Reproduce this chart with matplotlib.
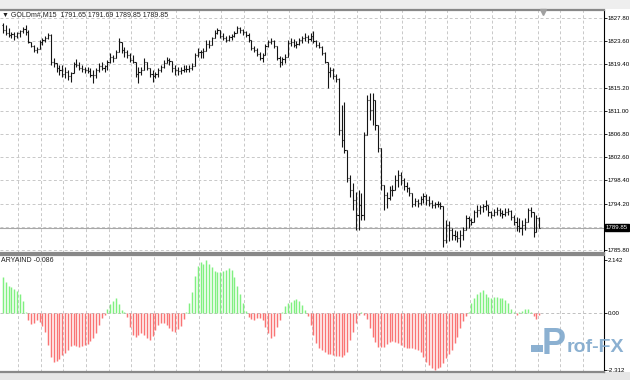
import matplotlib
matplotlib.use("Agg")
import matplotlib.pyplot as plt
from matplotlib.collections import LineCollection
from matplotlib.patches import Rectangle
import matplotlib.transforms as mtransforms
import numpy as np

plt.rcParams['font.family'] = ['Liberation Sans', 'DejaVu Sans']

# GOLDm#, M15 - bars (open, high, low, close), oldest first
opens = [
    1826.5, 1825.6, 1825.1, 1824.7, 1824.9, 1824.5, 1825.1, 1825.5, 1825.8, 1825.3,
    1823.5, 1822.7, 1822.0, 1822.2, 1823.5, 1823.8, 1824.2, 1824.7, 1819.8, 1819.7,
    1818.8, 1818.4, 1817.7, 1818.0, 1817.3, 1817.9, 1819.5, 1819.3, 1818.8, 1818.6,
    1818.4, 1818.2, 1817.5, 1817.5, 1818.4, 1819.1, 1818.8, 1819.1, 1819.8, 1820.7,
    1820.6, 1821.6, 1823.5, 1822.0, 1821.6, 1821.1, 1820.2, 1819.8, 1817.7, 1818.0,
    1818.4, 1819.8, 1818.8, 1817.7, 1817.3, 1817.7, 1818.4, 1818.9, 1819.7, 1820.2,
    1820.0, 1818.8, 1818.4, 1818.2, 1818.4, 1818.6, 1818.6, 1818.8, 1819.1, 1821.1,
    1821.6, 1821.6, 1821.8, 1823.1, 1822.9, 1824.2, 1825.1, 1825.6, 1824.5, 1824.2,
    1823.8, 1824.4, 1824.5, 1825.1, 1826.0, 1825.6, 1825.3, 1824.7, 1823.8, 1822.4,
    1822.0, 1821.3, 1820.6, 1821.1, 1822.7, 1823.5, 1823.6, 1822.7, 1820.6, 1819.8,
    1820.4, 1820.7, 1823.3, 1823.5, 1822.9, 1823.1, 1823.8, 1824.2, 1824.4, 1824.0,
    1824.5, 1823.6, 1822.9, 1822.5, 1821.5, 1819.8, 1818.0, 1818.4, 1817.3, 1816.8,
    1807.5, 1805.7, 1803.9, 1798.8, 1796.7, 1794.9, 1792.1, 1794.0, 1792.1, 1806.6,
    1813.0, 1811.2, 1813.0, 1808.4, 1804.3, 1797.6, 1795.8, 1795.2, 1796.7, 1796.7,
    1798.5, 1799.4, 1798.5, 1797.4, 1797.0, 1796.1, 1794.1, 1794.7, 1794.3, 1795.0,
    1795.6, 1794.9, 1794.3, 1794.0, 1794.1, 1794.1, 1793.8, 1787.6, 1790.3, 1789.4,
    1788.5, 1788.3, 1788.0, 1788.5, 1789.4, 1791.6, 1791.2, 1790.9, 1792.7, 1793.0,
    1793.6, 1793.8, 1794.0, 1792.7, 1792.1, 1792.7, 1793.0, 1792.5, 1792.3, 1792.7,
    1792.9, 1791.8, 1790.9, 1790.2, 1789.8, 1790.3, 1790.9, 1793.0, 1792.7, 1789.1,
    1791.65]
highs = [
    1826.9, 1826.5, 1826.0, 1825.3, 1825.3, 1825.3, 1825.6, 1826.2, 1826.5, 1825.6,
    1823.5, 1822.9, 1822.5, 1823.8, 1824.2, 1824.5, 1825.1, 1824.9, 1820.6, 1819.7,
    1819.3, 1819.3, 1818.9, 1818.4, 1818.0, 1819.8, 1820.4, 1819.8, 1819.3, 1818.9,
    1818.9, 1818.8, 1818.4, 1818.8, 1819.7, 1819.8, 1819.3, 1820.2, 1821.5, 1821.1,
    1822.0, 1824.2, 1823.5, 1822.5, 1822.0, 1821.5, 1821.1, 1819.8, 1818.9, 1818.9,
    1820.6, 1819.8, 1818.8, 1818.4, 1818.0, 1818.8, 1819.3, 1820.2, 1820.7, 1820.6,
    1820.0, 1819.3, 1818.9, 1818.9, 1819.3, 1819.3, 1819.3, 1819.7, 1821.5, 1822.4,
    1822.0, 1822.4, 1823.8, 1823.8, 1824.4, 1825.6, 1826.0, 1825.6, 1825.1, 1824.5,
    1824.7, 1824.9, 1825.5, 1826.4, 1826.2, 1825.8, 1825.5, 1825.1, 1823.8, 1822.7,
    1822.4, 1821.6, 1821.5, 1823.1, 1823.8, 1824.2, 1823.8, 1822.7, 1820.9, 1820.7,
    1821.3, 1823.8, 1824.2, 1824.0, 1823.6, 1824.2, 1824.5, 1825.1, 1824.7, 1825.1,
    1825.5, 1823.8, 1823.5, 1822.7, 1821.6, 1819.8, 1818.9, 1818.8, 1817.7, 1816.9,
    1812.1, 1812.6, 1803.9, 1799.4, 1797.9, 1796.3, 1796.7, 1796.1, 1807.2, 1813.9,
    1814.2, 1814.2, 1813.0, 1808.4, 1804.3, 1797.6, 1796.3, 1797.4, 1797.6, 1799.4,
    1800.3, 1799.9, 1798.8, 1798.1, 1797.2, 1796.1, 1795.2, 1795.0, 1795.6, 1796.1,
    1795.9, 1795.6, 1794.9, 1794.5, 1794.7, 1794.5, 1793.8, 1791.2, 1791.1, 1789.8,
    1789.4, 1789.2, 1789.4, 1790.0, 1792.1, 1792.0, 1791.6, 1793.0, 1794.0, 1794.0,
    1794.1, 1794.9, 1794.0, 1792.9, 1793.2, 1793.6, 1793.4, 1793.0, 1793.4, 1793.4,
    1793.0, 1792.1, 1791.8, 1791.6, 1791.2, 1791.6, 1793.4, 1793.6, 1792.7, 1792.1,
    1791.69]
lows = [
    1825.1, 1824.7, 1824.4, 1824.2, 1823.8, 1824.2, 1824.4, 1825.1, 1824.7, 1823.3,
    1822.5, 1821.6, 1821.5, 1822.2, 1822.9, 1823.5, 1824.0, 1819.3, 1818.9, 1818.0,
    1817.5, 1817.1, 1816.9, 1816.6, 1816.2, 1817.9, 1818.9, 1818.4, 1818.0, 1817.9,
    1817.9, 1817.1, 1816.0, 1816.9, 1818.0, 1818.4, 1818.0, 1818.4, 1819.7, 1819.8,
    1820.6, 1821.6, 1821.5, 1820.7, 1820.6, 1819.8, 1819.7, 1817.1, 1816.0, 1817.5,
    1818.4, 1818.4, 1817.1, 1816.2, 1816.9, 1817.1, 1818.0, 1818.8, 1819.7, 1819.3,
    1818.0, 1817.5, 1817.5, 1817.7, 1818.0, 1818.0, 1818.0, 1818.4, 1819.1, 1820.7,
    1820.6, 1820.6, 1821.8, 1822.4, 1822.9, 1824.2, 1824.9, 1824.2, 1823.8, 1823.5,
    1823.6, 1823.8, 1824.4, 1825.1, 1825.1, 1824.7, 1824.4, 1823.5, 1822.0, 1821.6,
    1820.9, 1820.2, 1819.8, 1821.1, 1822.5, 1823.1, 1822.4, 1820.2, 1818.9, 1819.3,
    1819.7, 1820.7, 1822.7, 1822.5, 1822.4, 1822.9, 1823.3, 1823.6, 1823.3, 1823.6,
    1823.3, 1822.5, 1822.4, 1821.1, 1819.7, 1815.1, 1817.1, 1816.8, 1816.2, 1806.6,
    1804.5, 1803.4, 1798.1, 1795.4, 1793.0, 1789.4, 1789.4, 1791.2, 1791.2, 1806.6,
    1809.3, 1808.4, 1807.5, 1803.5, 1796.7, 1793.0, 1793.4, 1794.9, 1795.6, 1796.7,
    1797.2, 1797.6, 1796.7, 1796.3, 1795.6, 1793.6, 1793.8, 1793.6, 1794.0, 1794.3,
    1794.0, 1793.8, 1793.4, 1793.4, 1793.6, 1793.2, 1786.4, 1787.1, 1787.4, 1787.6,
    1787.6, 1787.3, 1786.4, 1787.6, 1789.4, 1789.8, 1790.3, 1790.9, 1791.8, 1792.3,
    1792.7, 1793.0, 1792.0, 1791.6, 1792.0, 1792.1, 1792.0, 1791.6, 1792.0, 1792.1,
    1791.2, 1790.3, 1789.2, 1789.1, 1788.5, 1789.4, 1790.9, 1791.8, 1788.2, 1789.1,
    1789.85]
closes = [
    1825.6, 1825.1, 1824.7, 1824.9, 1824.5, 1825.1, 1825.5, 1825.8, 1825.3, 1823.5,
    1822.7, 1822.0, 1822.2, 1823.5, 1823.8, 1824.2, 1824.7, 1819.8, 1819.7, 1818.8,
    1818.4, 1817.7, 1818.0, 1817.3, 1817.9, 1819.5, 1819.3, 1818.8, 1818.6, 1818.4,
    1818.2, 1817.5, 1817.5, 1818.4, 1819.1, 1818.8, 1819.1, 1819.8, 1820.7, 1820.6,
    1821.6, 1823.5, 1822.0, 1821.6, 1821.1, 1820.2, 1819.8, 1817.7, 1818.0, 1818.4,
    1819.8, 1818.8, 1817.7, 1817.3, 1817.7, 1818.4, 1818.9, 1819.7, 1820.2, 1820.0,
    1818.8, 1818.4, 1818.2, 1818.4, 1818.6, 1818.6, 1818.8, 1819.1, 1821.1, 1821.6,
    1821.6, 1821.8, 1823.1, 1822.9, 1824.2, 1825.1, 1825.6, 1824.5, 1824.2, 1823.8,
    1824.4, 1824.5, 1825.1, 1826.0, 1825.6, 1825.3, 1824.7, 1823.8, 1822.4, 1822.0,
    1821.3, 1820.6, 1821.1, 1822.7, 1823.5, 1823.6, 1822.7, 1820.6, 1819.8, 1820.4,
    1820.7, 1823.3, 1823.5, 1822.9, 1823.1, 1823.8, 1824.2, 1824.4, 1824.0, 1824.5,
    1823.6, 1822.9, 1822.5, 1821.5, 1819.8, 1818.0, 1818.4, 1817.3, 1816.8, 1807.5,
    1805.7, 1803.9, 1798.8, 1796.7, 1794.9, 1792.1, 1794.0, 1792.1, 1806.6, 1813.0,
    1811.2, 1813.0, 1808.4, 1804.3, 1797.6, 1795.8, 1795.2, 1796.7, 1796.7, 1798.5,
    1799.4, 1798.5, 1797.4, 1797.0, 1796.1, 1794.1, 1794.7, 1794.3, 1795.0, 1795.6,
    1794.9, 1794.3, 1794.0, 1794.1, 1794.1, 1793.8, 1787.6, 1790.3, 1789.4, 1788.5,
    1788.3, 1788.0, 1788.5, 1789.4, 1791.6, 1791.2, 1790.9, 1792.7, 1793.0, 1793.6,
    1793.8, 1794.0, 1792.7, 1792.1, 1792.7, 1793.0, 1792.5, 1792.3, 1792.7, 1792.9,
    1791.8, 1790.9, 1790.2, 1789.8, 1790.3, 1790.9, 1793.0, 1792.7, 1789.1, 1791.6,
    1789.85]

# indicator histogram (ARYAIND)
aryaind = [
    1.47, 1.27, 1.1, 1.06, 0.98, 0.91, 0.75, 0.48, 0.03, -0.3,
    -0.46, -0.42, -0.3, -0.37, -0.52, -0.75, -1.28, -1.8, -1.99, -1.95,
    -1.85, -1.72, -1.6, -1.49, -1.35, -1.31, -1.34, -1.36, -1.33, -1.3,
    -1.27, -1.13, -1.0, -0.82, -0.5, -0.2, -0.08, 0.15, 0.37, 0.5,
    0.6, 0.36, 0.12, 0.03, -0.15, -0.55, -0.88, -0.96, -0.9, -0.83,
    -0.9, -1.03, -1.08, -0.92, -0.68, -0.5, -0.39, -0.39, -0.48, -0.62,
    -0.71, -0.75, -0.66, -0.52, -0.23, 0.05, 0.4, 0.85, 1.5, 1.9,
    2.05, 1.97, 2.142, 1.97, 1.88, 1.70, 1.65, 1.65, 1.70, 1.74,
    1.81, 1.74, 1.45, 1.11, 0.76, 0.39, 0.09, -0.15, -0.24, -0.28,
    -0.22, -0.19, -0.28, -0.55, -0.82, -1.03, -0.92, -0.55, -0.28, 0.03,
    0.3, 0.41, 0.43, 0.53, 0.57, 0.49, 0.32, 0.12, -0.11, -0.49,
    -0.89, -1.23, -1.41, -1.5, -1.57, -1.64, -1.64, -1.7, -1.73, -1.73,
    -1.77, -1.7, -1.57, -1.09, -0.76, -0.42, -0.08, 0.03, -0.08, -0.24,
    -0.62, -0.96, -1.16, -1.36, -1.39, -1.36, -1.27, -1.19, -1.14, -1.16,
    -1.23, -1.3, -1.36, -1.41, -1.43, -1.43, -1.46, -1.5, -1.59, -1.77,
    -1.97, -2.11, -2.22, -2.312, -2.24, -2.18, -2.04, -1.84, -1.68, -1.5,
    -1.23, -0.96, -0.62, -0.32, -0.11, 0.05, 0.39, 0.62, 0.76, 0.86,
    0.93, 0.76, 0.66, 0.62, 0.66, 0.66, 0.62, 0.59, 0.53, 0.39,
    0.16, 0.05, -0.08, 0.05, 0.08, 0.16, 0.16, 0.05, -0.11, -0.24,
    -0.086]

price_levels = [1827.80, 1823.60, 1819.40, 1815.20, 1811.00, 1806.80,
                1802.60, 1798.40, 1794.20, 1790.00, 1785.80]
ind_levels = [2.142, 0.0, -2.312]
ind_labels = ['2.142', '0.00', '-2.312']
bid = 1789.85
header = '\u25bc GOLDm#,M15  1791.65 1791.69 1789.85 1789.85'
ind_header = 'ARYAIND -0.086'

W, H = 630, 380
fig = plt.figure(figsize=(W / 100, H / 100), dpi=100)
fig.patch.set_facecolor('white')

# window frame bands
fig.add_artist(Rectangle((0, 1 - 9 / H), 1, 9 / H, transform=fig.transFigure,
                         facecolor='#eeeeee', edgecolor='none', zorder=0))
fig.add_artist(Rectangle((0, 0), 1, 8 / H, transform=fig.transFigure,
                         facecolor='#e6e6e6', edgecolor='none', zorder=0))

ax1 = fig.add_axes([0, 127 / H, 604 / W, 243 / H])
ax2 = fig.add_axes([0, 8 / H, 604 / W, 117 / H])

x = np.arange(len(closes))
xlim = (-1.06, 212.97)
grid_x = np.arange(5.42, 212, 8)
dash = (0, (3, 2.5))
lab_size = 4.4

for ax in (ax1, ax2):
    ax.set_xlim(*xlim)
    ax.set_xticks([])
    ax.spines['left'].set_visible(False)
    ax.spines['right'].set_color('black')
    ax.spines['right'].set_linewidth(0.8)
    ax.spines['top'].set_color('#888888')
    ax.spines['bottom'].set_color('#888888')
    ax.spines['top'].set_linewidth(1.6)
    ax.spines['bottom'].set_linewidth(1.6)
    for gx in grid_x:
        ax.axvline(gx, color='#c8c8c8', lw=0.7, ls=dash, zorder=0)
    ax.yaxis.tick_right()
    ax.tick_params(axis='y', direction='out', length=2, width=0.6,
                   pad=0.8, labelsize=lab_size, colors='black')

# price panel
ax1.set_ylim(1785.26, 1829.25)
for lv in price_levels:
    ax1.axhline(lv, color='#c8c8c8', lw=0.7, ls=dash, zorder=0)
ax1.axhline(bid, color='#a8a8a8', lw=0.8, zorder=1)
shown = [lv for lv in price_levels if abs(lv - bid) > 1]
ax1.set_yticks(shown)
ax1.set_yticklabels(['%.2f' % v for v in shown])

segs = []
for i in range(len(closes)):
    segs.append([(x[i], lows[i]), (x[i], highs[i])])
    segs.append([(x[i] - 0.4, opens[i]), (x[i], opens[i])])
    segs.append([(x[i], closes[i]), (x[i] + 0.4, closes[i])])
ax1.add_collection(LineCollection(segs, colors='#141414', linewidths=0.8, zorder=3))

tr = mtransforms.blended_transform_factory(ax1.transAxes, ax1.transData)
ax1.text(1.003, bid, '1789.85', transform=tr, fontsize=lab_size, color='white',
         va='center', ha='left',
         bbox=dict(boxstyle='square,pad=0.12', facecolor='black', edgecolor='black'))

# indicator panel
ax2.set_ylim(-2.389, 2.348)
ax2.axhline(0, color='#c0c0c0', lw=0.7, ls=dash, zorder=0)
vals = np.array(aryaind)
cols = ['#80f080' if v > 0 else '#fa7474' for v in vals]
ax2.vlines(x, 0, vals, colors=cols, linewidth=1.05, zorder=2)
ax2.set_yticks(ind_levels)
ax2.set_yticklabels(ind_labels)

# texts
fig.text(2 / W, 1 - 15 / H, header, fontsize=5, va='center', ha='left', color='#202020')
fig.text(1 / W, 1 - 261 / H, ind_header, fontsize=5, va='center', ha='left', color='#202020')
fig.add_artist(plt.Line2D([543 / W], [1 - 12 / H], marker='v', color='#a0a0a0',
                          markersize=4, transform=fig.transFigure))

# watermark
wm = '#7ea8cc'
fig.add_artist(Rectangle((531 / W, 1 - 352 / H), 12 / W, 7 / H, transform=fig.transFigure,
                         facecolor=wm, edgecolor='none', alpha=0.9))
fig.text(542 / W, 1 - 354 / H, 'P', fontsize=26, fontweight='bold', color=wm,
         alpha=0.9, ha='left', va='baseline')
fig.text(567 / W, 1 - 352 / H, 'rof-FX', fontsize=14, fontweight='bold', color=wm,
         alpha=0.9, ha='left', va='baseline')

fig.savefig('out.png', dpi=100)
